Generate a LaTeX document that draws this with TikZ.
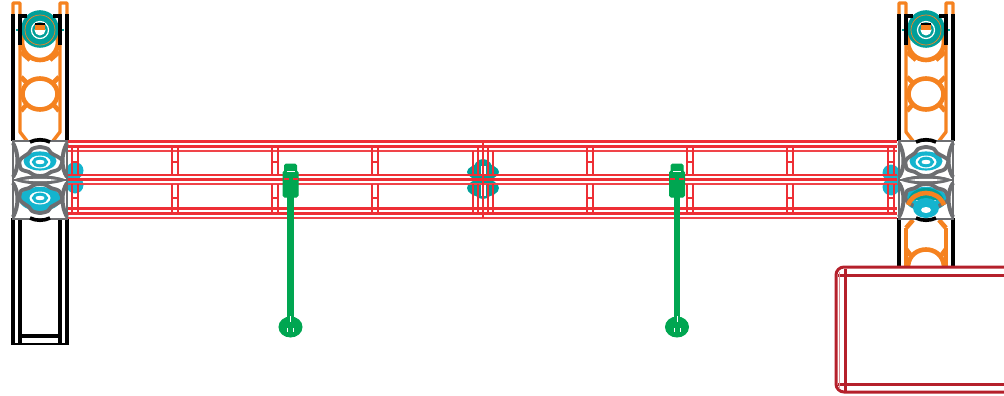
\documentclass[tikz,border=0pt]{standalone}
\usetikzlibrary{calc,positioning}
\definecolor{beamred}{HTML}{EE2F35}
\definecolor{boxred}{HTML}{B5202B}
\definecolor{rungorange}{HTML}{F58220}
\definecolor{hubteal}{HTML}{009F9A}
\definecolor{hubcyan}{HTML}{14B4CE}
\definecolor{hubgrey}{HTML}{6D6E71}
\definecolor{rodgreen}{HTML}{00A651}
\tikzset{
    rail/.style={
    draw=black,line width=3.2pt
    },
    railthick/.style={
    draw=black,line width=4.6pt
    },
    rung/.style={
    draw=rungorange,line width=4.6pt
    },
    beamline/.style={
    draw=beamred,line width=2.6pt
    },
    beamthin/.style={
    draw=beamred!90,line width=2.3pt
    },
    boxline/.style={
    draw=boxred,line width=3pt
    },
    greyline/.style={
    draw=hubgrey,line width=3.8pt
    },
    rod/.style={
    draw=rodgreen,fill=rodgreen,line width=1pt
    },
    pics/ladder/.style={code={
       %caps and rails
       \draw[rung,line width=3.4pt,line join=round] (-27,14) -- (-27,3) -- (-20,3) -- (-20,132) -- (-13,141);
       \draw[rung,line width=3.4pt,line join=round] (27,14) -- (27,3) -- (20,3) -- (20,132) -- (13,141);
       %rings
       \draw[rung] (0,42) circle[radius=18];
       \draw[rung] (0,94) ellipse[x radius=17.5,y radius=15.5];
       \draw[rung] (-19,52) -- (-10,60);
       \draw[rung] (19,52) -- (10,60);
       \draw[rung] (-19,77) -- (-13,83);
       \draw[rung] (19,77) -- (13,83);
       \draw[rung] (-19,111) -- (-13,104);
       \draw[rung] (19,111) -- (13,104);
       %bearing
       \fill[hubteal] (-24,29.5) rectangle (24,31);
       \fill[hubteal] (0,29) circle[radius=18.8];
       \draw[rungorange,line width=0.7pt] (0,30) circle[radius=15];
       \draw[white,line width=1.2pt] (0,30) circle[radius=8.5];
       \fill[white] (0,30) circle[radius=5.5];
       \fill[rungorange] (-5,25) rectangle (5,30);
       \draw[black,line width=2.8pt] (-5,24) -- (5,24);
       %black rails
       \draw[rail] (-27,45) -- (-27,141);
       \draw[rail] (27,45) -- (27,141);
       \draw[railthick] (-27,14) -- (-27,46);
       \draw[railthick] (27,14) -- (27,46);
       \draw[black,line width=3.4pt] (-13,16) -- (-20,16) -- (-20,45);
       \draw[black,line width=3.4pt] (13,16) -- (20,16) -- (20,45);
    }},
    pics/hub/.style={code={
       %block
       \fill[white] (-27,-39) rectangle (27,0);
       \draw[hubgrey,line width=1.6pt] (-27,-39) -- (27,-39) -- (27,0) -- (-27,0) -- cycle;
       \draw[greyline,line width=4pt] (-27,-37) .. controls (-21,-26) and (-21,-12) .. (-27,-3);
       \draw[greyline,line width=4pt] (27,-37) .. controls (21,-26) and (21,-12) .. (27,-3);
       \draw[black,line width=3.6pt] (-10,-38) .. controls (-4,-41) and (4,-41) .. (10,-38);
       %lobes
       \fill[white] plot[smooth cycle] coordinates {(-20,-20) (-11,-27) (-8,-31) (0,-33) (8,-31) (11,-27) (22,-20) (19,-11) (11,-8) (6,-5) (0,-4) (-6,-5) (-11,-8) (-19,-11)};
       \fill[hubcyan] (0,-19) ellipse[x radius=#1,y radius=0.58*#1];
       \fill[white] (0,-18) ellipse[x radius=10.5,y radius=6.5];
       \draw[hubcyan,line width=3pt] (0,-18) ellipse[x radius=6.5,y radius=3.8];
       \draw[greyline] plot[smooth cycle] coordinates {(-20,-20) (-11,-27) (-8,-31) (0,-33) (8,-31) (11,-27) (22,-20) (19,-11) (11,-8) (6,-5) (0,-4) (-6,-5) (-11,-8) (-19,-11)};
       %lens
       \fill[hubgrey] (-27,0) .. controls (-12,-6) and (12,-6) .. (27,0) .. controls (12,6) and (-12,6) .. (-27,0) -- cycle;
       \fill[white] (-17,0) .. controls (-8,-1.6) and (8,-1.6) .. (17,0) .. controls (8,1.6) and (-8,1.6) .. (-17,0) -- cycle;
    }},
    pics/crossmember/.style={code={
       \draw[beamline] (-3,146) -- (-3,175);
       \draw[beamline] (3,146) -- (3,175);
       \draw[beamline] (-3,162) -- (3,162);
       \draw[beamline] (-3,184) -- (-3,213);
       \draw[beamline] (3,184) -- (3,213);
       \draw[beamline] (-3,198) -- (3,198);
    }},
    pics/hanger/.style={code={
       \fill[rod,rounded corners=1.5pt] (-6,164) rectangle (6,173);
       \fill[rod,rounded corners=1.5pt] (-7.5,171) rectangle (7.5,197);
       \draw[white,line width=1pt] (-4,171.5) -- (4,171.5);
       \draw[rodgreen,line width=6.4pt] (0,195) -- (0,320);
       \fill[rod] (0,327) ellipse[x radius=11.5,y radius=10];
       \draw[white,line width=1pt] (0,316) -- (0,322);
       \draw[white,line width=1pt] (-3,328) -- (-3,332);
       \draw[white,line width=1pt] (3,328) -- (3,332);
       \draw[beamline,line width=2.2pt] (-7,179) -- (-2,179);
       \draw[beamline,line width=2.2pt] (2,179) -- (7,179);
    }},
}
\begin{document}
\begin{tikzpicture}[x=1pt,y=-1pt]
   \useasboundingbox (0,0) rectangle (1004,396);
   %column0
   \pic (ladder0) at (40,0) {ladder};
   \draw[rail] (13,218) -- (13,345);
   \draw[rail] (67,218) -- (67,345);
   \draw[rail] (20,218) -- (20,340);
   \draw[rail] (60,218) -- (60,340);
   \draw[railthick] (13,313) -- (13,345);
   \draw[railthick] (67,313) -- (67,345);
   \draw[railthick] (20,313) -- (20,345);
   \draw[railthick] (60,313) -- (60,345);
   \draw[rail,line width=4pt] (20,336) -- (60,336);
   \draw[rail,line width=2.2pt] (13,344) -- (67,344);
   %column1
   \pic (ladder1) at (926,0) {ladder};
   \draw[rung] (906,228) -- (906,266);
   \draw[rung] (946,228) -- (946,266);
   \draw[rung] (906,228) -- (913,220);
   \draw[rung] (946,228) -- (939,220);
   \draw[rung] (908,266) .. controls (910,244) and (942,244) .. (944,266);
   \draw[rung] (906,249) -- (912,257);
   \draw[rung] (946,249) -- (940,257);
   \draw[rail] (899,218) -- (899,266);
   \draw[rail] (953,218) -- (953,266);
   %blobs
   \fill[hubcyan] (75,170.5) circle[radius=8.5];
   \fill[hubcyan] (75,185) circle[radius=8.5];
   \fill[hubcyan] (66,170) rectangle (80,186);
   \fill[hubcyan] (891,173) circle[radius=8.5];
   \fill[hubcyan] (891,187) circle[radius=8.5];
   \fill[hubcyan] (886,173) rectangle (900,187);
   \fill[hubteal] (483,172) ellipse[x radius=16,y radius=8];
   \fill[hubteal] (483,171) ellipse[x radius=10,y radius=12];
   \fill[hubteal] (483,188) ellipse[x radius=16,y radius=9];
   \fill[hubteal] (483,188) ellipse[x radius=10,y radius=11];
   \fill[white] (481,166) rectangle (486,176);
   \fill[white] (481,185) rectangle (486,196);
   %hubs
   \pic (hub0) at (40,180) {hub=16.5};
   \pic[yscale=-1] (hub1) at (40,180) {hub=21};
   \pic (hub2) at (926,180) {hub=16.5};
   \pic[yscale=-1] (hub3) at (926,180) {hub=21};
   %hub3 ring
   \fill[hubteal] (908,200) .. controls (912,184) and (940,184) .. (944,200) -- cycle;
   \draw[rung] (908,205) .. controls (914,189) and (938,189) .. (944,205);
   \fill[hubcyan] (926,208) ellipse[x radius=13,y radius=10];
   \fill[white] (926,210) ellipse[x radius=5,y radius=3];
   %beam
   \draw[beamline] (68,141.5) -- (897,141.5);
   \draw[beamline] (68,146.3) -- (897,146.3);
   \draw[beamthin] (68,151) -- (897,151);
   \draw[beamline] (68,175) -- (897,175);
   \draw[beamline] (68,179.6) -- (897,179.6);
   \draw[beamthin] (68,184.2) -- (897,184.2);
   \draw[beamline] (68,208.5) -- (897,208.5);
   \draw[beamline] (68,213.2) -- (897,213.2);
   \draw[beamthin] (68,218) -- (897,218);
   %crossmembers
   \pic (cross0) at (75,0) {crossmember};
   \pic (cross1) at (175,0) {crossmember};
   \pic (cross2) at (275,0) {crossmember};
   \pic (cross3) at (375,0) {crossmember};
   \pic (cross4) at (590,0) {crossmember};
   \pic (cross5) at (690,0) {crossmember};
   \pic (cross6) at (790,0) {crossmember};
   \pic (cross7) at (891,0) {crossmember};
   %centre
   \draw[beamline] (473,151) -- (473,175);
   \draw[beamline] (478,146) -- (478,175);
   \draw[beamline] (488,146) -- (488,175);
   \draw[beamline] (493,151) -- (493,175);
   \draw[beamline] (473,184) -- (473,213);
   \draw[beamline] (478,184) -- (478,213);
   \draw[beamline] (488,184) -- (488,213);
   \draw[beamline] (493,184) -- (493,213);
   \draw[beamline] (483,142) -- (483,218);
   %hangers
   \pic (hanger0) at (290.5,0) {hanger};
   \pic (hanger1) at (677,0) {hanger};
   %box
   \draw[boxline,rounded corners=8pt] (1010,267) -- (836,267) -- (836,392) -- (1010,392);
   \draw[boxline] (838,275) -- (1010,275);
   \draw[boxline] (838,384) -- (1010,384);
   \draw[boxline] (845,269) -- (845,391);
   \draw[boxred!50,line width=1pt] (839,272) -- (839,388);
\end{tikzpicture}
\end{document}
